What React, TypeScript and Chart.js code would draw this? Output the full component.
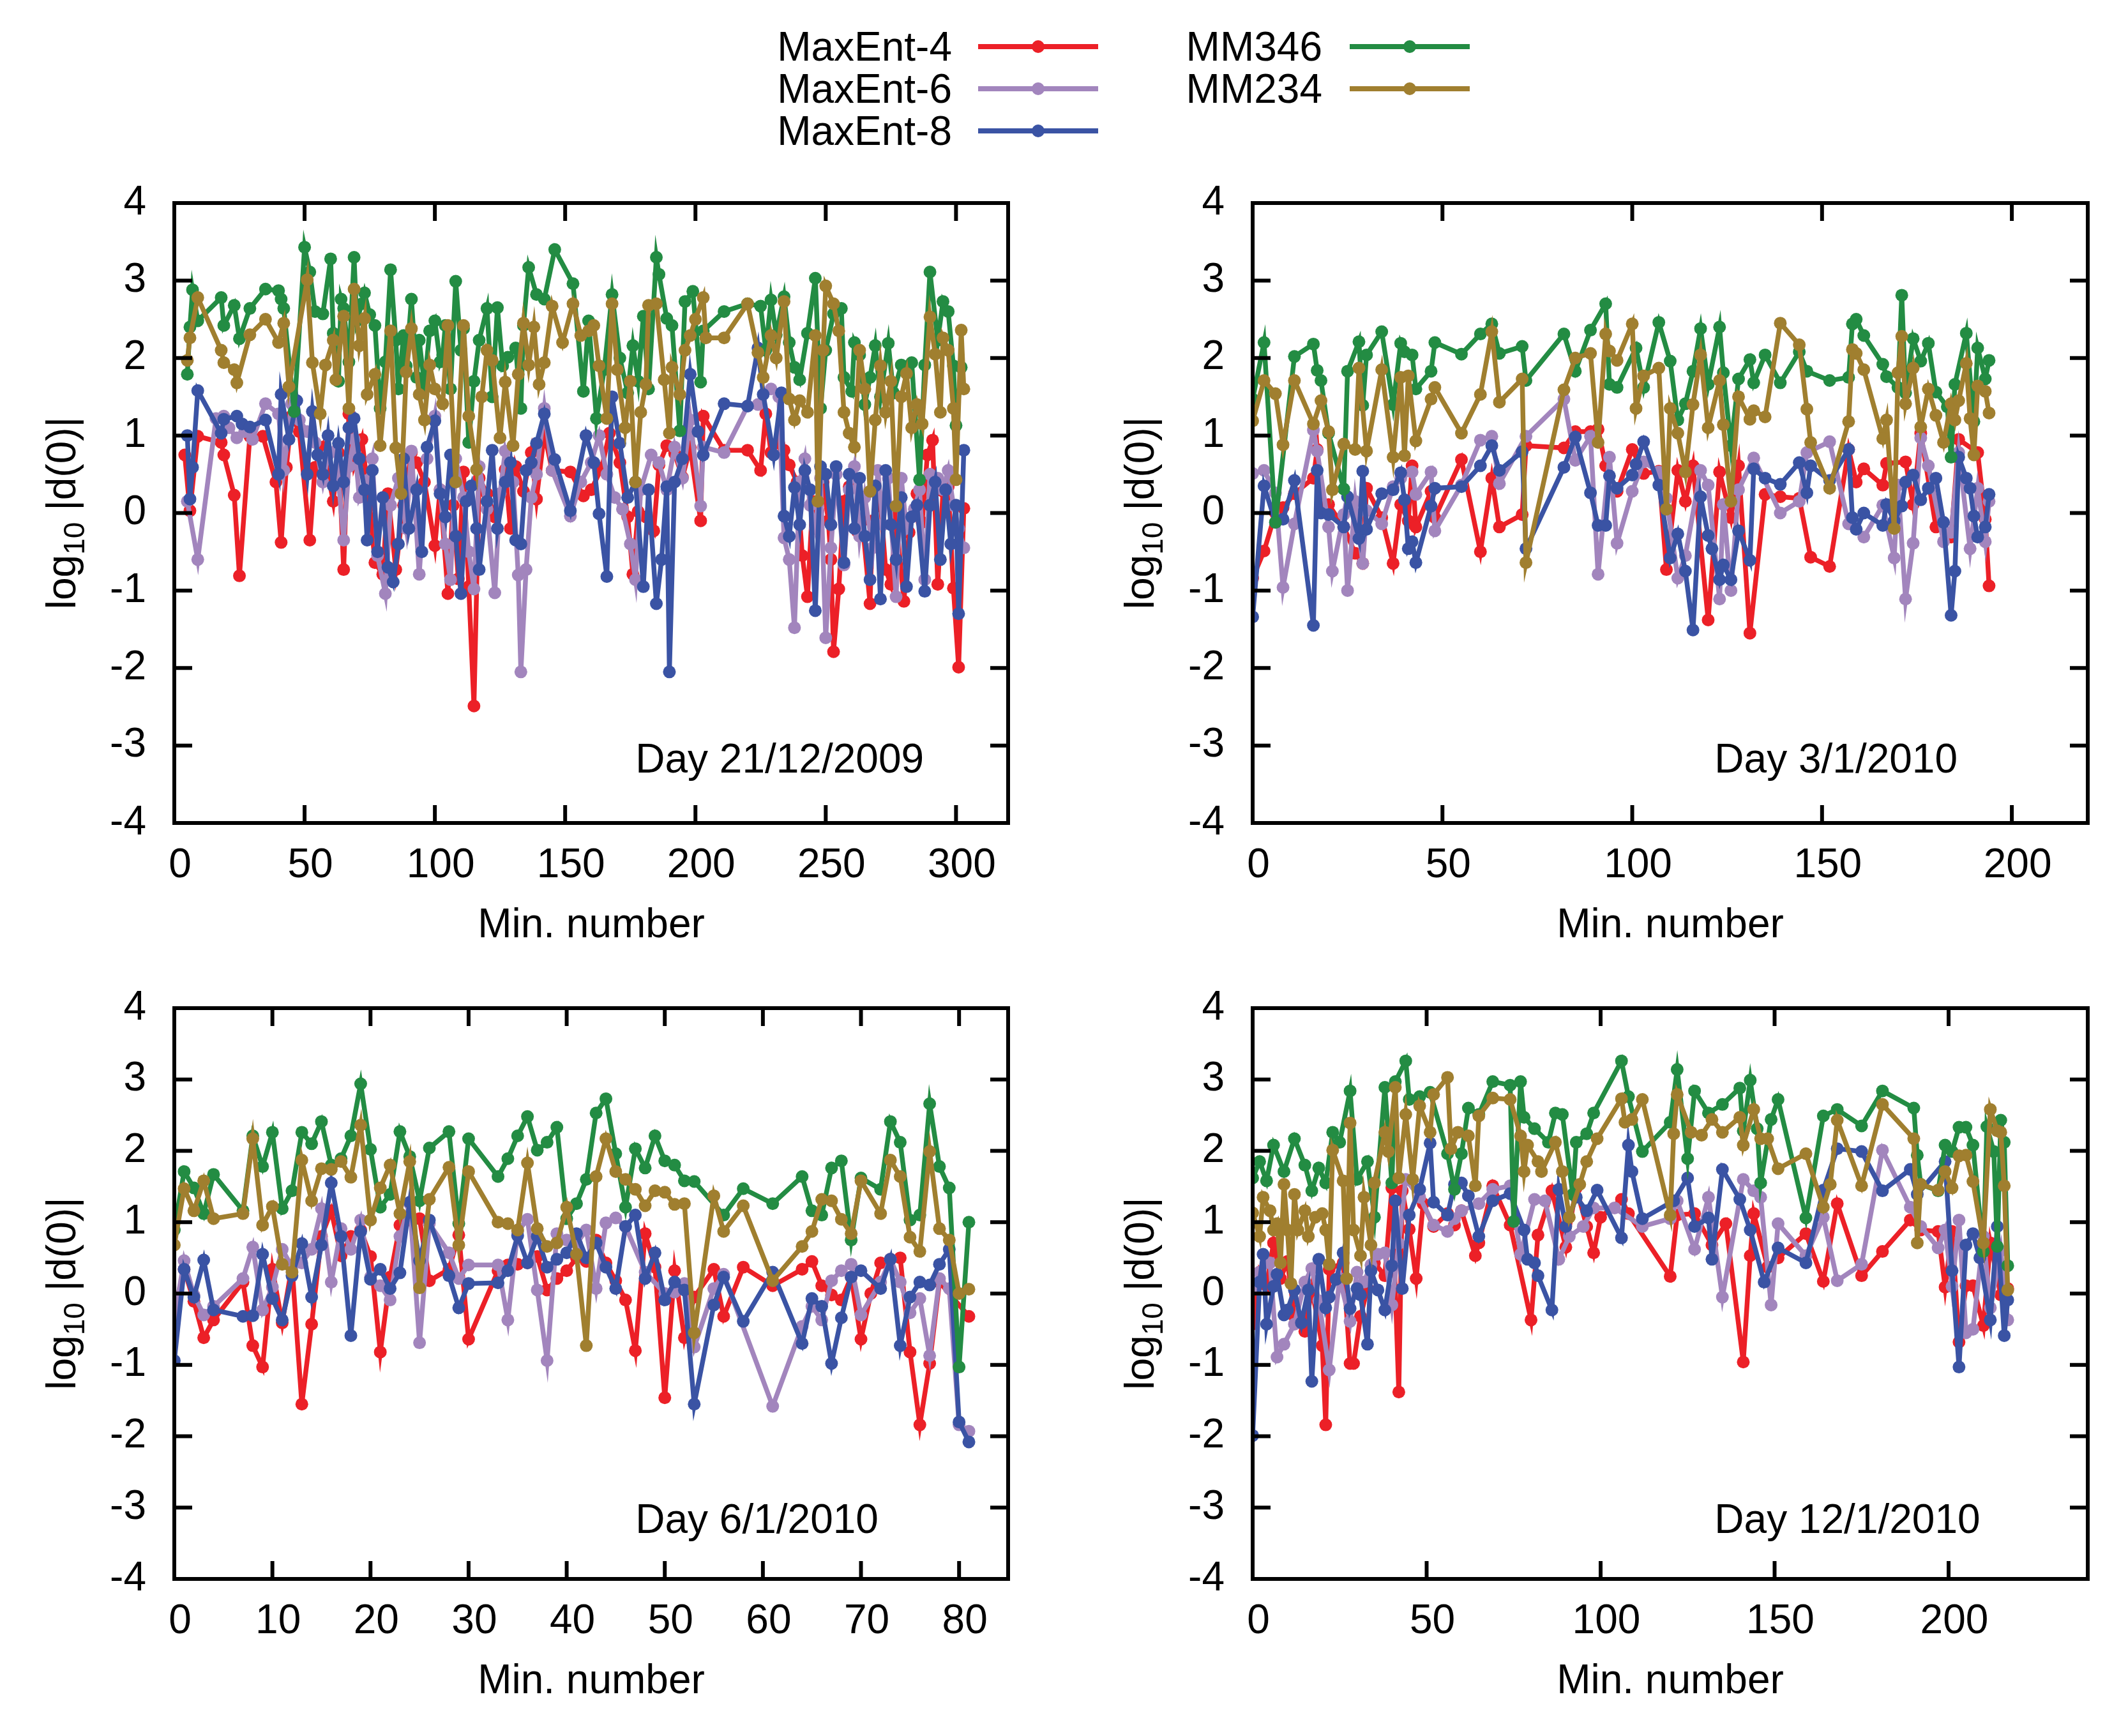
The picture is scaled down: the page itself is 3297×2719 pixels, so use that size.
import React, { useEffect, useRef } from 'react';
import Chart from 'chart.js/auto';

type Pt = [number, number];

const FONT = '"Liberation Sans", Arial, Helvetica, sans-serif';
const SERIES = ['MaxEnt-4', 'MaxEnt-6', 'MaxEnt-8', 'MM346', 'MM234'];
const COLORS = ['#ec2027', '#a285bd', '#3a53a4', '#238c43', '#a07f2f'];
const Y_TICKS = [-4, -3, -2, -1, 0, 1, 2, 3, 4];
const X_TICKS_1 = [0, 50, 100, 150, 200, 250, 300];
const X_TICKS_2 = [0, 50, 100, 150, 200];
const X_TICKS_3 = [0, 10, 20, 30, 40, 50, 60, 70, 80];
const X_TICKS_4 = [0, 50, 100, 150, 200];

// Day 21/12/2009
const d1MaxEnt4: Pt[] = [[4,0.75],[6,0.03],[9,0.99],[18,0.91],[19,0.75],[23,0.23],[25,-0.81],[29,0.99],[34,0.99],[39,0.40],[41,-0.38],[43,0.59],[45,1.25],[48,1.05],[52,-0.35],[54,0.59],[57,0.85],[61,0.15],[63,0.78],[65,-0.73],[67,1.28],[69,0.62],[72,0.95],[75,0.10],[77,-0.64],[80,-0.79],[82,0.25],[85,-0.73],[88,0.10],[91,0.78],[93,0.65],[96,0.40],[100,-0.42],[102,0.30],[105,-1.04],[107,0.10],[109,-0.85],[111,0.53],[113,-0.95],[115,-2.49],[117,0.45],[120,0.25],[123,-0.05],[127,0.56],[129,-0.20],[131,0.60],[134,0.28],[137,0.78],[139,0.18],[142,1.03],[145,0.55],[152,0.53],[157,0.22],[160,0.30],[164,0.58],[167,1.03],[171,0.65],[174,-0.05],[176,-0.79],[178,0.02],[181,-0.05],[184,-0.23],[186,0.62],[189,0.87],[192,0.77],[195,0.46],[198,0.84],[202,-0.10],[203,1.25],[211,0.81],[220,0.81],[225,0.55],[227,1.28],[229,0.78],[232,0.90],[234,0.81],[236,0.62],[239,0.40],[241,-0.55],[243,-1.08],[245,0.15],[247,0.03],[249,0.40],[251,-0.10],[252,-0.60],[253,-1.79],[255,-0.98],[257,0.15],[259,0.34],[262,-0.23],[264,-0.10],[267,-1.17],[268,-0.10],[271,0.15],[273,-0.73],[275,-0.92],[277,-0.05],[280,-1.14],[282,-0.25],[285,0.25],[287,-0.12],[289,0.75],[291,0.94],[293,-0.92],[295,0.28],[297,0.34],[299,-0.97],[301,-1.99],[303,0.06]];
const d1MaxEnt6: Pt[] = [[5,0.15],[9,-0.60],[16,1.22],[19,1.25],[21,1.10],[24,0.97],[27,1.05],[30,0.95],[35,1.41],[40,1.28],[42,0.55],[45,1.41],[48,1.20],[51,1.05],[54,0.91],[57,0.40],[59,0.75],[62,0.80],[65,-0.35],[67,0.60],[69,0.95],[71,0.20],[74,0.42],[76,0.70],[78,-0.55],[81,-1.04],[83,0.10],[86,0.45],[89,-0.20],[91,0.80],[94,-0.79],[97,0.70],[100,1.25],[102,0.30],[104,-0.40],[106,-0.86],[108,0.70],[111,0.20],[113,-0.50],[115,-0.98],[117,0.60],[120,0.05],[123,-1.03],[125,0.25],[127,0.80],[130,0.40],[132,-0.80],[133,-2.05],[135,-0.73],[137,0.20],[139,0.50],[142,1.35],[145,0.55],[152,-0.04],[156,0.40],[160,0.65],[163,1.00],[166,0.50],[169,0.20],[172,0.05],[175,-0.40],[177,-0.86],[179,0.30],[183,0.75],[186,0.65],[189,0.30],[192,0.85],[195,0.45],[198,1.20],[202,0.09],[203,0.85],[211,0.78],[220,1.38],[224,1.40],[229,1.60],[232,1.50],[234,-0.32],[236,-0.60],[238,-1.48],[240,0.40],[242,0.70],[244,0.10],[246,-0.20],[248,0.45],[250,-1.61],[252,-0.45],[254,0.50],[257,-0.67],[259,0.30],[261,0.60],[263,-0.30],[265,0.20],[268,-0.45],[270,0.55],[272,-0.15],[274,0.45],[277,-1.08],[279,0.45],[281,-0.20],[284,0.05],[286,0.30],[288,-0.86],[290,0.50],[293,0.45],[295,0.30],[297,0.55],[299,0.10],[301,-0.20],[303,-0.45]];
const d1MaxEnt8: Pt[] = [[5,1.00],[6,0.18],[7,0.59],[9,1.58],[18,1.03],[19,1.21],[24,1.25],[26,1.15],[29,1.11],[35,1.20],[40,0.50],[41,1.53],[44,0.95],[47,1.45],[51,0.50],[53,1.31],[55,0.75],[57,0.50],[59,1.00],[61,0.35],[63,0.90],[65,0.40],[67,1.10],[69,1.22],[71,0.70],[73,0.30],[74,-0.35],[76,0.55],[78,-0.50],[80,0.20],[82,-0.70],[84,-0.89],[86,-0.40],[88,0.70],[90,-0.20],[93,0.30],[95,-0.50],[97,0.85],[100,1.19],[102,0.25],[104,-0.05],[106,0.75],[108,-0.30],[110,-1.04],[112,0.15],[114,0.35],[116,-0.20],[117,-0.73],[120,0.15],[122,0.81],[124,-0.20],[127,0.40],[129,0.65],[131,-0.35],[133,-0.40],[135,0.55],[137,0.65],[139,0.90],[142,1.28],[146,0.69],[152,0.03],[158,1.00],[161,0.65],[163,-0.01],[166,-0.82],[168,1.50],[171,0.90],[174,0.20],[177,0.40],[180,-0.95],[182,0.30],[185,-1.17],[187,-0.60],[189,0.34],[190,-2.05],[192,0.40],[195,0.70],[198,1.79],[201,1.05],[203,0.75],[211,1.41],[220,1.38],[224,2.13],[226,1.53],[230,0.75],[233,1.55],[234,-0.04],[236,-0.30],[238,0.33],[240,-0.15],[242,0.55],[244,0.30],[246,-1.26],[248,0.60],[250,0.50],[252,-0.15],[254,0.60],[257,-0.64],[259,0.50],[261,-0.20],[263,0.45],[265,-0.30],[267,-0.86],[269,0.35],[271,-1.11],[273,0.55],[275,-0.15],[277,-0.60],[279,0.20],[281,-0.95],[283,-0.05],[285,0.10],[288,-1.01],[290,0.10],[292,0.40],[294,-0.60],[296,0.30],[298,-0.40],[300,0.10],[301,-1.30],[303,0.81]];
const d1MM346: Pt[] = [[5,1.79],[6,2.40],[7,2.88],[9,2.48],[18,2.78],[19,2.42],[23,2.68],[25,2.25],[29,2.64],[35,2.89],[40,2.87],[41,2.76],[42,2.64],[46,1.31],[50,3.43],[52,3.11],[54,2.60],[57,2.57],[60,3.28],[61,2.32],[63,1.70],[64,2.76],[65,2.64],[67,1.95],[69,3.30],[70,2.48],[72,2.70],[73,2.84],[75,2.56],[77,2.42],[79,1.35],[81,1.95],[83,3.14],[85,2.23],[86,1.60],[88,2.29],[89,1.90],[91,2.76],[93,1.75],[94,2.23],[96,1.65],[98,2.35],[100,2.48],[102,1.95],[103,2.04],[104,2.42],[106,1.60],[108,2.99],[110,2.10],[111,2.38],[113,0.91],[115,1.70],[117,2.23],[120,2.64],[122,1.50],[124,2.65],[126,1.90],[128,2.01],[131,2.13],[133,1.35],[134,2.42],[136,3.17],[139,2.82],[142,2.76],[146,3.40],[153,2.96],[157,1.57],[159,2.48],[162,1.22],[165,1.85],[168,2.82],[171,2.00],[174,1.55],[176,2.16],[178,1.70],[180,2.54],[182,1.60],[185,3.30],[186,3.08],[189,2.51],[191,2.42],[194,1.06],[196,2.73],[199,2.86],[202,1.69],[203,2.35],[211,2.60],[220,2.70],[225,2.67],[227,2.10],[229,2.75],[231,2.30],[234,2.79],[236,2.20],[238,1.88],[240,1.72],[243,2.32],[246,3.03],[248,1.35],[250,2.10],[253,2.57],[256,2.64],[257,1.75],[260,1.57],[261,2.20],[263,2.04],[265,1.40],[267,1.75],[269,2.16],[271,1.50],[274,2.19],[276,1.55],[279,1.91],[283,1.94],[286,0.43],[288,1.91],[290,3.11],[293,2.23],[295,2.73],[297,2.60],[299,1.90],[300,1.13],[302,1.88]];
const d1MM234: Pt[] = [[5,1.97],[6,2.26],[9,2.78],[18,2.10],[19,1.94],[23,1.85],[24,1.68],[29,2.30],[35,2.50],[40,2.20],[42,2.45],[44,1.63],[51,3.01],[53,1.94],[56,1.28],[58,1.91],[61,2.23],[62,1.72],[65,2.54],[67,1.35],[69,2.89],[71,2.16],[73,2.51],[74,1.53],[77,1.79],[79,0.87],[83,2.35],[85,0.84],[87,0.25],[89,1.82],[91,2.38],[94,1.53],[96,1.20],[98,1.91],[100,1.60],[103,1.41],[105,2.42],[108,0.40],[111,2.42],[113,1.25],[116,0.56],[118,1.50],[120,2.10],[122,1.97],[125,0.97],[127,1.69],[130,0.87],[132,1.79],[134,2.45],[136,1.91],[138,2.40],[140,1.66],[142,1.94],[145,2.67],[149,2.20],[153,2.70],[156,2.29],[159,2.35],[161,2.42],[163,1.90],[166,1.22],[168,2.70],[170,1.85],[173,1.10],[175,1.70],[177,0.40],[179,1.30],[181,1.66],[182,2.68],[185,2.70],[188,1.72],[190,1.03],[191,1.88],[194,1.53],[196,2.10],[198,2.29],[200,2.50],[203,2.78],[204,2.26],[211,2.26],[220,2.70],[224,2.07],[226,1.75],[229,2.29],[231,2.00],[234,2.73],[236,1.47],[238,1.20],[240,1.45],[243,1.30],[246,2.29],[247,0.15],[249,2.10],[250,2.93],[253,2.70],[255,2.35],[257,1.30],[259,1.03],[261,0.85],[263,2.10],[265,1.60],[267,0.28],[269,1.20],[271,1.90],[273,1.30],[275,1.70],[277,0.09],[279,1.50],[281,1.80],[283,1.10],[285,1.40],[287,1.15],[290,2.53],[292,2.05],[294,1.30],[295,2.26],[297,2.10],[299,1.35],[300,0.43],[302,2.36],[303,1.60]];

// Day 3/1/2010
const d2MaxEnt4: Pt[] = [[0,-0.84],[3,-0.49],[6,0.0],[8,0.07],[11,0.25],[16,0.45],[17,0.82],[18,0.11],[20,0.11],[24,-0.18],[27,-0.52],[29,-0.65],[30,0.32],[34,-0.06],[37,-0.65],[39,0.11],[41,-0.10],[42,0.61],[43,-0.18],[47,0.28],[48,-0.06],[55,0.69],[60,-0.50],[63,0.45],[65,-0.18],[71,-0.02],[72,0.87],[82,0.84],[85,1.05],[89,1.05],[91,1.08],[93,0.61],[96,0.28],[100,0.82],[103,0.51],[107,0.54],[109,-0.73],[112,0.55],[114,0.15],[116,0.61],[120,-1.38],[123,0.53],[126,-0.06],[128,0.61],[131,-1.55],[135,0.24],[139,0.21],[144,0.19],[147,-0.57],[152,-0.69],[157,0.82],[159,0.40],[161,0.57],[166,0.36],[167,0.64],[172,0.66],[174,0.11],[176,1.03],[180,-0.18],[184,-0.31],[186,0.95],[191,0.78],[193,-0.08],[194,-0.94]];
const d2MaxEnt6: Pt[] = [[0,0.51],[3,0.55],[6,0.26],[8,-0.96],[11,-0.14],[16,1.07],[17,0.80],[20,-0.18],[21,-0.75],[24,-0.02],[25,-1.00],[27,0.15],[29,-0.65],[30,0.03],[34,-0.14],[37,0.34],[39,0.45],[42,0.53],[43,0.24],[47,0.53],[48,-0.23],[55,0.36],[60,0.94],[63,0.99],[65,0.38],[72,0.99],[82,1.47],[85,0.68],[89,0.99],[91,-0.79],[94,0.72],[96,-0.39],[100,0.28],[103,0.66],[107,0.53],[109,0.19],[112,-0.84],[114,-0.55],[118,0.55],[120,0.36],[123,-1.11],[124,0.11],[126,-1.00],[128,0.30],[132,0.71],[139,0.00],[144,0.15],[146,0.78],[152,0.92],[157,-0.14],[161,-0.31],[166,0.10],[169,-0.58],[170,0.36],[172,-1.11],[174,-0.39],[176,0.97],[178,0.61],[182,-0.37],[184,-0.25],[186,0.78],[189,-0.46],[191,0.32],[193,-0.37],[194,0.15]];
const d2MaxEnt8: Pt[] = [[0,-1.34],[3,0.35],[6,-0.12],[8,-0.08],[11,0.42],[16,-1.45],[17,0.55],[18,0.0],[20,-0.02],[24,-0.18],[25,0.21],[28,-0.33],[29,0.54],[30,-0.21],[34,0.25],[37,0.30],[39,0.52],[40,0.17],[41,-0.46],[42,-0.37],[43,-0.64],[47,0.09],[48,0.32],[55,0.34],[60,0.61],[63,0.87],[65,0.55],[71,0.79],[72,-0.46],[82,0.59],[85,0.98],[89,0.26],[91,-0.16],[93,-0.16],[94,0.48],[96,0.32],[100,0.49],[101,0.63],[103,0.92],[107,0.36],[110,-0.58],[112,-0.27],[114,-0.75],[116,-1.51],[118,0.21],[120,-0.29],[121,-0.46],[123,-0.86],[124,-0.67],[126,-0.86],[128,-0.23],[131,-0.61],[132,0.57],[135,0.45],[139,0.37],[144,0.65],[146,0.26],[147,0.61],[152,0.42],[157,0.82],[158,-0.06],[159,-0.21],[161,0.0],[166,-0.16],[167,0.11],[169,-0.10],[171,0.09],[172,0.40],[174,0.49],[176,0.17],[178,0.32],[180,0.45],[182,-0.12],[184,-1.32],[185,-0.75],[186,0.72],[188,0.45],[189,0.32],[190,-0.04],[191,-0.31],[193,-0.18],[194,0.24]];
const d2MM346: Pt[] = [[0,1.47],[3,2.20],[6,-0.12],[11,2.02],[16,2.18],[17,1.84],[18,1.71],[20,1.03],[24,0.31],[25,1.83],[28,2.21],[29,1.39],[30,2.04],[34,2.34],[37,1.40],[39,2.19],[40,2.08],[42,2.04],[43,1.60],[47,1.83],[48,2.20],[55,2.05],[60,2.31],[63,2.44],[65,2.06],[71,2.15],[72,1.71],[82,2.31],[85,1.83],[89,2.36],[93,2.70],[94,1.66],[96,1.62],[101,2.13],[103,1.62],[107,2.46],[110,1.96],[112,1.20],[114,1.41],[116,1.83],[118,2.38],[120,1.66],[123,2.40],[124,1.81],[126,0.87],[128,1.73],[131,1.98],[132,1.68],[135,2.04],[139,1.68],[144,2.08],[146,1.83],[152,1.71],[157,1.75],[158,2.44],[159,2.50],[161,2.29],[166,1.92],[167,1.76],[170,1.62],[171,2.81],[172,1.55],[174,2.25],[176,1.96],[178,2.19],[180,1.56],[183,1.37],[184,0.72],[185,1.66],[188,2.32],[190,1.18],[191,2.13],[193,1.73],[194,1.97]];
const d2MM234: Pt[] = [[0,1.19],[3,1.71],[6,1.54],[8,0.88],[11,1.71],[16,1.15],[18,1.45],[20,1.05],[21,0.30],[24,0.89],[27,0.82],[28,1.87],[30,0.80],[34,1.85],[37,0.72],[39,1.75],[40,0.74],[41,1.77],[43,0.93],[47,1.47],[48,1.62],[55,1.03],[60,1.53],[63,2.34],[65,1.43],[71,1.73],[72,-0.64],[82,1.59],[85,2.00],[89,2.06],[91,0.91],[93,2.31],[94,2.09],[96,1.97],[100,2.44],[101,1.35],[103,1.77],[107,1.87],[109,0.05],[110,1.35],[112,1.03],[114,0.53],[116,1.40],[118,2.04],[120,1.10],[123,1.71],[124,1.14],[126,0.15],[128,1.50],[131,1.21],[132,1.32],[135,1.24],[139,2.45],[144,2.17],[146,1.34],[147,0.91],[152,0.32],[157,1.18],[158,2.11],[159,2.06],[161,1.85],[166,0.96],[167,1.20],[169,-0.20],[170,1.81],[171,2.28],[172,1.41],[174,1.87],[176,1.11],[178,1.60],[180,1.26],[182,0.91],[184,1.41],[185,1.20],[186,1.45],[188,1.93],[189,1.22],[190,0.75],[191,1.64],[193,1.57],[194,1.29]];

// Day 6/1/2010
const d3MaxEnt4: Pt[] = [[0,-0.25],[1,0.34],[2,-0.11],[3,-0.62],[4,-0.37],[7,0.16],[8,-0.73],[9,-1.03],[10,0.34],[11,-0.41],[12,0.39],[13,-1.55],[14,-0.43],[15,0.80],[16,1.16],[17,0.53],[18,0.80],[19,0.89],[20,0.52],[21,-0.82],[22,0.23],[23,0.96],[24,1.03],[25,1.05],[26,0.18],[28,0.34],[29,0.82],[30,-0.64],[33,0.32],[34,0.40],[35,0.41],[36,0.43],[37,0.52],[38,0.05],[39,0.21],[40,0.32],[41,0.50],[42,0.45],[43,0.75],[44,0.43],[45,0.18],[46,-0.09],[47,-0.80],[48,0.84],[49,0.37],[50,-1.46],[51,0.32],[52,-0.62],[53,-0.05],[55,0.34],[56,-0.32],[58,0.37],[61,0.11],[64,0.34],[65,0.45],[66,0.11],[67,-0.02],[68,-0.09],[69,0.23],[70,-0.64],[71,0.00],[72,0.43],[73,0.48],[74,0.50],[75,-0.82],[76,-1.84],[77,-0.98],[78,0.16],[81,-0.32]];
const d3MaxEnt6: Pt[] = [[0,-0.34],[1,0.46],[2,-0.02],[3,-0.30],[4,-0.18],[7,0.21],[8,0.65],[9,-0.23],[10,0.09],[11,0.62],[12,0.37],[13,0.43],[14,0.62],[15,1.19],[16,0.16],[17,0.91],[18,0.62],[19,1.03],[20,0.23],[21,0.11],[22,-0.09],[23,0.80],[24,1.26],[25,-0.69],[26,0.98],[28,0.57],[29,0.21],[30,0.40],[33,0.40],[34,-0.37],[35,0.87],[36,1.04],[37,0.05],[38,-0.94],[39,0.84],[40,0.75],[41,0.70],[42,0.89],[43,0.07],[44,0.99],[45,1.06],[46,0.94],[48,0.30],[50,0.00],[51,0.02],[52,0.14],[53,-0.75],[55,0.07],[56,0.27],[61,-1.58],[64,-0.46],[65,-0.18],[66,-0.37],[67,0.18],[68,0.32],[69,0.41],[70,-0.30],[72,0.16],[73,0.48],[74,0.16],[75,-0.27],[76,-0.07],[77,-0.87],[78,0.21],[79,0.07],[80,-1.84],[81,-1.93]];
const d3MaxEnt8: Pt[] = [[0,-0.94],[1,0.34],[2,-0.05],[3,0.47],[4,-0.23],[7,-0.32],[8,-0.31],[9,0.55],[10,-0.07],[11,-0.37],[12,0.25],[13,0.70],[14,-0.05],[15,0.68],[16,1.55],[17,0.80],[18,-0.59],[19,0.87],[20,0.20],[21,0.34],[22,0.07],[23,0.29],[24,1.28],[25,0.46],[26,1.03],[28,0.25],[29,-0.20],[30,0.14],[33,0.15],[34,0.32],[35,0.81],[36,0.43],[37,0.80],[38,0.37],[39,0.48],[40,0.57],[41,0.84],[42,0.50],[43,0.71],[44,0.37],[45,0.07],[46,0.94],[47,1.10],[48,0.21],[49,0.57],[50,-0.09],[51,0.16],[52,0.05],[53,-1.55],[55,-0.16],[56,0.23],[58,-0.39],[61,0.30],[64,-0.70],[65,-0.07],[66,-0.18],[67,-0.98],[68,-0.34],[69,0.23],[70,0.32],[72,0.07],[73,0.48],[74,-0.73],[75,-0.05],[76,0.16],[77,0.12],[78,0.41],[79,0.62],[80,-1.80],[81,-2.08]];
const d3MM346: Pt[] = [[0,0.89],[1,1.71],[2,1.48],[3,1.12],[4,1.67],[7,1.16],[8,2.21],[9,1.78],[10,2.26],[11,1.19],[12,1.44],[13,2.26],[14,2.10],[15,2.41],[16,1.80],[17,1.89],[18,2.21],[19,2.94],[20,2.02],[21,1.21],[22,1.39],[23,2.27],[24,1.92],[25,1.30],[26,2.04],[28,2.27],[29,0.98],[30,2.17],[33,1.64],[34,1.89],[35,2.21],[36,2.48],[37,2.01],[38,2.12],[39,2.33],[40,1.05],[41,1.26],[42,1.60],[43,2.53],[44,2.73],[45,1.96],[46,1.21],[47,2.03],[48,1.76],[49,2.21],[50,1.86],[51,1.80],[52,1.58],[53,1.57],[56,1.10],[58,1.47],[61,1.26],[64,1.64],[65,1.16],[66,1.10],[67,1.76],[68,1.86],[69,0.75],[70,1.62],[72,1.46],[73,2.41],[74,2.12],[75,1.03],[76,1.10],[77,2.66],[78,1.78],[79,1.48],[80,-1.03],[81,1.00]];
const d3MM234: Pt[] = [[0,0.68],[1,1.47],[2,1.16],[3,1.58],[4,1.05],[7,1.12],[8,2.17],[9,0.96],[10,1.22],[11,0.41],[12,0.30],[13,1.87],[14,1.30],[15,1.75],[16,1.74],[17,1.85],[18,1.63],[19,2.36],[20,1.03],[21,1.48],[22,1.80],[23,1.12],[24,1.85],[25,0.08],[26,1.32],[28,1.77],[29,0.68],[30,1.71],[33,1.00],[34,0.98],[35,0.89],[36,1.83],[37,0.91],[38,0.66],[39,0.71],[40,1.21],[41,0.55],[42,-0.73],[43,1.64],[44,2.17],[45,1.71],[46,1.60],[47,1.46],[48,1.23],[49,1.44],[50,1.42],[51,1.25],[52,1.26],[53,-0.55],[55,1.37],[56,0.87],[58,1.23],[61,0.18],[64,0.66],[65,0.87],[66,1.32],[67,1.30],[68,1.04],[69,0.84],[70,1.58],[72,1.12],[73,1.87],[74,1.64],[75,0.79],[76,0.59],[77,1.99],[78,0.91],[79,0.75],[80,0.00],[81,0.06]];

// Day 12/1/2010
const d4MaxEnt4: Pt[] = [[0,-0.43],[2,0.30],[4,0.11],[6,0.71],[8,0.21],[10,0.45],[12,-0.32],[15,-0.53],[17,0.07],[20,-0.73],[21,-1.84],[22,0.34],[26,0.43],[28,-0.98],[29,-0.98],[31,-0.32],[33,0.07],[35,0.43],[38,0.25],[40,1.48],[42,-1.38],[43,1.44],[45,0.90],[47,0.21],[49,1.26],[52,0.94],[56,1.12],[58,0.96],[60,1.16],[64,0.53],[65,0.71],[69,1.51],[74,0.96],[80,-0.37],[82,0.82],[86,1.44],[90,0.65],[93,1.48],[96,0.94],[98,0.57],[100,1.07],[106,1.32],[108,1.12],[120,0.24],[122,1.10],[127,1.12],[132,0.68],[136,0.98],[141,-0.96],[143,0.53],[144,1.12],[148,0.37],[151,0.50],[159,0.84],[164,0.17],[168,1.26],[175,0.25],[181,0.59],[189,1.03],[192,0.89],[197,0.87],[199,0.09],[201,0.87],[203,-0.68],[205,0.11],[207,0.11],[210,-0.45],[212,0.71],[215,-0.02],[217,0.07]];
const d4MaxEnt6: Pt[] = [[0,0.09],[2,0.30],[5,0.43],[7,-0.89],[9,-0.71],[12,-0.43],[15,0.16],[17,0.35],[19,-0.10],[22,-1.07],[25,0.21],[28,-0.39],[30,0.30],[32,0.16],[34,0.40],[36,0.55],[38,0.57],[40,-0.16],[42,0.70],[44,1.60],[48,1.35],[52,0.96],[56,0.87],[58,1.05],[60,1.16],[65,1.26],[69,1.46],[74,1.51],[77,0.55],[81,1.32],[84,1.30],[88,0.48],[91,0.80],[95,0.94],[98,1.20],[104,1.20],[112,0.94],[120,1.05],[122,1.30],[127,0.62],[131,1.35],[135,-0.05],[141,1.60],[144,1.44],[146,1.35],[149,-0.16],[151,0.98],[159,0.53],[164,1.07],[168,0.18],[175,0.41],[181,2.01],[189,1.21],[192,0.94],[197,0.64],[199,0.89],[201,0.10],[203,1.03],[205,-0.55],[207,-0.50],[210,0.80],[212,-0.20],[215,0.60],[217,-0.37]];
const d4MaxEnt8: Pt[] = [[0,-1.99],[2,0.16],[3,0.55],[4,-0.43],[6,0.10],[7,0.27],[9,-0.30],[10,-0.23],[12,0.05],[14,-0.41],[16,0.05],[17,-1.23],[19,0.48],[21,-0.20],[22,-0.05],[24,0.20],[26,0.57],[28,-0.21],[30,0.07],[31,-0.02],[33,-0.71],[34,0.32],[36,0.05],[38,-0.23],[40,0.39],[41,1.30],[43,0.07],[45,1.10],[48,1.46],[51,2.11],[52,1.28],[56,1.10],[58,1.53],[60,1.55],[62,1.37],[65,0.80],[69,1.30],[74,1.40],[78,0.89],[79,0.48],[81,0.43],[82,0.25],[86,-0.23],[88,1.46],[90,0.94],[93,1.35],[96,1.16],[99,1.45],[106,0.78],[108,2.08],[109,1.71],[112,1.05],[121,1.30],[125,1.62],[127,0.94],[131,1.06],[132,0.48],[135,1.74],[140,1.32],[143,0.89],[147,0.16],[151,0.64],[159,0.43],[164,1.45],[168,2.03],[175,1.99],[181,1.44],[189,1.74],[191,1.39],[199,1.85],[201,0.32],[203,-1.03],[205,0.68],[207,0.84],[209,0.50],[212,-0.37],[214,0.94],[216,-0.59],[217,-0.09]];
const d4MM346: Pt[] = [[0,1.62],[2,1.85],[4,1.58],[6,2.08],[9,1.71],[12,2.17],[15,1.80],[17,1.44],[19,1.76],[21,1.55],[23,2.26],[25,2.12],[28,2.84],[30,1.60],[33,1.85],[35,1.07],[38,2.89],[40,1.55],[41,2.97],[44,3.26],[45,2.72],[48,2.76],[51,2.82],[56,1.96],[58,1.46],[60,1.96],[62,2.60],[65,2.51],[69,2.97],[74,2.92],[75,1.01],[77,2.97],[78,2.47],[81,2.31],[85,2.12],[87,2.53],[89,2.51],[92,1.39],[93,2.12],[96,2.24],[98,2.53],[106,3.26],[108,2.76],[112,1.99],[120,2.40],[122,3.14],[125,1.89],[127,2.84],[131,2.53],[135,2.65],[140,2.88],[141,2.28],[143,2.99],[145,2.31],[146,1.55],[149,2.44],[151,2.72],[159,1.06],[164,2.49],[168,2.58],[175,2.35],[181,2.84],[190,2.60],[191,1.94],[192,1.53],[197,1.44],[199,2.08],[201,1.99],[203,2.33],[205,2.33],[207,2.08],[210,0.59],[211,2.34],[213,1.99],[214,0.66],[215,2.43],[216,2.12],[217,0.39]];
const d4MM234: Pt[] = [[0,1.13],[2,0.80],[3,1.35],[5,1.16],[6,0.89],[7,0.98],[8,0.43],[9,1.53],[10,0.89],[11,0.14],[12,1.39],[13,0.89],[15,1.16],[16,0.80],[18,1.07],[20,1.12],[21,0.89],[22,0.41],[23,2.01],[26,1.58],[27,0.21],[28,2.39],[29,0.89],[31,0.53],[32,1.35],[34,0.68],[35,1.55],[38,2.26],[39,1.99],[41,2.89],[42,1.62],[44,2.51],[46,1.60],[48,2.63],[51,2.26],[52,2.79],[56,3.03],[57,2.03],[59,2.26],[62,2.21],[64,1.51],[65,2.49],[69,2.74],[74,2.72],[77,2.21],[78,1.71],[79,2.08],[82,1.85],[83,1.71],[87,2.12],[89,1.71],[91,1.07],[94,1.53],[96,1.85],[99,2.17],[106,2.73],[107,2.40],[109,2.44],[112,2.72],[120,1.10],[121,2.24],[122,2.79],[126,2.26],[129,2.22],[132,2.44],[135,2.26],[140,2.47],[141,2.08],[144,2.58],[146,2.17],[148,2.17],[151,1.75],[159,1.96],[164,1.21],[166,1.53],[168,2.43],[175,1.51],[181,2.65],[190,2.17],[191,0.71],[192,1.53],[197,1.45],[199,1.71],[201,1.48],[203,1.93],[205,1.94],[207,1.57],[210,0.71],[212,2.58],[214,2.28],[215,2.26],[216,1.51],[217,0.05]];

interface PanelDef {
  day: string;
  xMax: number;
  xTicks: number[];
  series: Pt[][];
  left: number;
  top: number;
  w: number;
  h: number;
}

const PANELS: PanelDef[] = [
  { day: 'Day 21/12/2009', xMax: 320, xTicks: X_TICKS_1, series: [d1MaxEnt4, d1MaxEnt6, d1MaxEnt8, d1MM346, d1MM234], left: 273, top: 318, w: 1306, h: 971 },
  { day: 'Day 3/1/2010', xMax: 220, xTicks: X_TICKS_2, series: [d2MaxEnt4, d2MaxEnt6, d2MaxEnt8, d2MM346, d2MM234], left: 1962, top: 318, w: 1308, h: 971 },
  { day: 'Day 6/1/2010', xMax: 85, xTicks: X_TICKS_3, series: [d3MaxEnt4, d3MaxEnt6, d3MaxEnt8, d3MM346, d3MM234], left: 273, top: 1579, w: 1306, h: 894 },
  { day: 'Day 12/1/2010', xMax: 240, xTicks: X_TICKS_4, series: [d4MaxEnt4, d4MaxEnt6, d4MaxEnt8, d4MM346, d4MM234], left: 1962, top: 1579, w: 1308, h: 894 },
];

const Y_AXIS_W = 273;
const X_AXIS_H = 230;
const PAD_T = 90;
const PAD_R = 20;

// gnuplot-style frame: inward ticks on all four sides, the day label and the y title
const framePlugin = {
  id: 'frame',
  afterDraw(chart: any, _args: any, opts: any) {
    const { ctx, chartArea: a, scales } = chart;
    const xs = scales.x;
    const ys = scales.y;
    ctx.save();
    ctx.strokeStyle = '#000';
    ctx.lineWidth = 6;
    const tl = 28;
    ctx.beginPath();
    for (const t of xs.ticks) {
      const px = xs.getPixelForValue(t.value);
      if (px < a.left + 3 || px > a.right - 3) continue;
      ctx.moveTo(px, a.bottom);
      ctx.lineTo(px, a.bottom - tl);
      ctx.moveTo(px, a.top);
      ctx.lineTo(px, a.top + tl);
    }
    for (const t of ys.ticks) {
      const py = ys.getPixelForValue(t.value);
      if (py < a.top + 3 || py > a.bottom - 3) continue;
      ctx.moveTo(a.left, py);
      ctx.lineTo(a.left + tl, py);
      ctx.moveTo(a.right, py);
      ctx.lineTo(a.right - tl, py);
    }
    ctx.stroke();
    ctx.strokeRect(a.left, a.top, a.right - a.left, a.bottom - a.top);

    ctx.fillStyle = '#000';
    ctx.font = `64px ${FONT}`;
    ctx.textAlign = 'left';
    ctx.textBaseline = 'middle';
    ctx.fillText(opts.day, a.left + 0.553 * (a.right - a.left), a.top + 0.9 * (a.bottom - a.top));

    const big = `64px ${FONT}`;
    const small = `46px ${FONT}`;
    ctx.translate(a.left - 178, (a.top + a.bottom) / 2);
    ctx.rotate(-Math.PI / 2);
    ctx.textBaseline = 'alphabetic';
    ctx.font = big;
    const w1 = ctx.measureText('log').width;
    const w3 = ctx.measureText(' |d(0)|').width;
    ctx.font = small;
    const w2 = ctx.measureText('10').width;
    let sx = -(w1 + w2 + w3) / 2;
    const base = 23;
    ctx.font = big;
    ctx.fillText('log', sx, base);
    sx += w1;
    ctx.font = small;
    ctx.fillText('10', sx, base + 14);
    sx += w2;
    ctx.font = big;
    ctx.fillText(' |d(0)|', sx, base);
    ctx.restore();
  },
};

const Panel: React.FC<{ p: PanelDef }> = ({ p }) => {
  const canvasRef = useRef<HTMLCanvasElement>(null);
  const cw = Y_AXIS_W + p.w + PAD_R;
  const ch = PAD_T + p.h + X_AXIS_H;

  useEffect(() => {
    if (!canvasRef.current) return;
    const ctx = canvasRef.current.getContext('2d');
    if (!ctx) return;
    const tickFont = { family: FONT, size: 64 };
    const chart = new Chart(ctx, {
      type: 'line',
      data: {
        datasets: p.series.map((pts, i) => ({
          label: SERIES[i],
          data: pts.map(([x, y]) => ({ x, y })),
          borderColor: COLORS[i],
          backgroundColor: COLORS[i],
          pointBackgroundColor: COLORS[i],
          pointBorderColor: COLORS[i],
          borderWidth: 7.5,
          pointRadius: 10,
          pointBorderWidth: 0,
          pointHoverRadius: 10,
          tension: 0,
          fill: false,
          order: 5 - i,
        })),
      },
      options: {
        animation: false,
        responsive: false,
        devicePixelRatio: 1,
        events: [],
        layout: { padding: { top: PAD_T, right: PAD_R, left: 0, bottom: 0 } },
        plugins: {
          legend: { display: false },
          tooltip: { enabled: false },
          frame: { day: p.day },
        } as any,
        scales: {
          x: {
            type: 'linear',
            min: 0,
            max: p.xMax,
            grid: { display: false, drawTicks: false },
            border: { display: false },
            afterBuildTicks: (s: any) => {
              s.ticks = p.xTicks.map((value) => ({ value }));
            },
            afterFit: (s: any) => {
              s.height = X_AXIS_H;
            },
            ticks: { font: tickFont, color: '#000', padding: 29, labelOffset: 9, maxRotation: 0, autoSkip: false },
            title: {
              display: true,
              text: 'Min. number',
              font: tickFont,
              color: '#000',
              padding: { top: 0, bottom: 30 },
            },
          },
          y: {
            type: 'linear',
            min: -4,
            max: 4,
            grid: { display: false, drawTicks: false },
            border: { display: false },
            afterBuildTicks: (s: any) => {
              s.ticks = Y_TICKS.map((value) => ({ value }));
            },
            afterFit: (s: any) => {
              s.width = Y_AXIS_W;
            },
            ticks: { font: tickFont, color: '#000', padding: 44, autoSkip: false },
          },
        },
      } as any,
      plugins: [framePlugin],
    });
    return () => chart.destroy();
  }, [p]);

  return (
    <canvas
      ref={canvasRef}
      width={cw}
      height={ch}
      style={{ position: 'absolute', left: p.left - Y_AXIS_W, top: p.top - PAD_T, width: cw, height: ch }}
    />
  );
};

const LEGEND_ROWS = [73, 139, 205];

const Legend: React.FC = () => {
  const items = SERIES.map((name, i) => {
    const col = i < 3 ? 0 : 1;
    const row = i < 3 ? i : i - 3;
    const textRight = col === 0 ? 1491 : 2071;
    const lineL = col === 0 ? 1532 : 2114;
    const lineW = 188;
    const y = LEGEND_ROWS[row];
    return (
      <React.Fragment key={name}>
        <div
          style={{
            position: 'absolute',
            left: textRight - 500,
            width: 500,
            top: y - 32,
            height: 64,
            lineHeight: '64px',
            fontSize: 64,
            fontFamily: FONT,
            textAlign: 'right',
            color: '#000',
            whiteSpace: 'nowrap',
          }}
        >
          {name}
        </div>
        <div style={{ position: 'absolute', left: lineL, top: y - 4, width: lineW, height: 8, background: COLORS[i] }} />
        <div
          style={{
            position: 'absolute',
            left: lineL + lineW / 2 - 10,
            top: y - 10,
            width: 20,
            height: 20,
            borderRadius: 10,
            background: COLORS[i],
          }}
        />
      </React.Fragment>
    );
  });
  return <>{items}</>;
};

export default function App() {
  return (
    <div style={{ position: 'absolute', left: 0, top: 0, width: 3297, height: 2719, background: '#fff', overflow: 'hidden' }}>
      <Legend />
      {PANELS.map((p) => (
        <Panel key={p.day} p={p} />
      ))}
    </div>
  );
}
